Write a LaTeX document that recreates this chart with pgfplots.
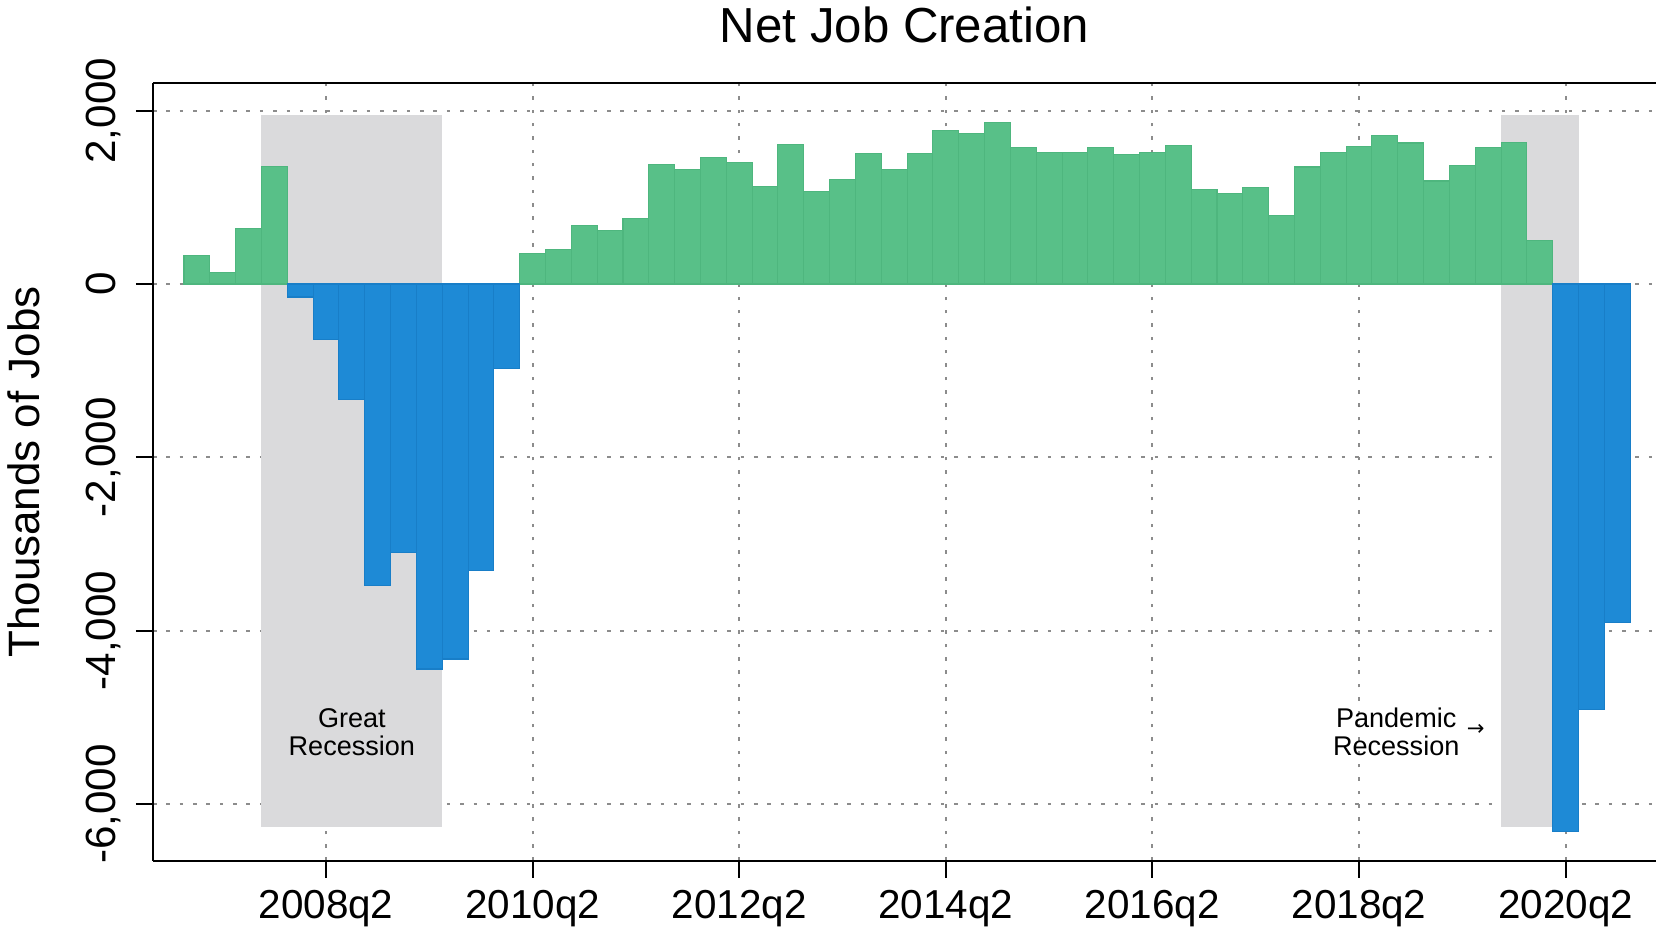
\documentclass[border=0pt]{standalone}
\usepackage{fontspec}
\setmainfont{Liberation Sans}
\newfontfamily\dejavu{DejaVu Sans}
\usepackage{pgfplots}
\pgfplotsset{compat=1.18}
\definecolor{jobgreen}{RGB}{88,192,136}
\definecolor{jobgreenedge}{RGB}{78,182,126}
\definecolor{jobblue}{RGB}{30,138,214}
\definecolor{jobblueedge}{RGB}{24,126,200}
\definecolor{recgray}{RGB}{218,218,220}
\definecolor{gridc}{RGB}{140,140,140}
\begin{document}
\begin{tikzpicture}
\begin{axis}[
  at={(15.3mm,7.2mm)}, anchor=south west,
  scale only axis, width=150.3mm, height=77.8mm,
  xmin=-1.7, xmax=56.5, ymin=-6659, ymax=2320,
  axis x line*=box, axis y line*=left,
  axis line style={line width=0.8pt, black},
  tick pos=left, tick align=outside, major tick length=1.7mm,
  tick style={black, line width=0.6pt},
  xtick={5,13,21,29,37,45,53},
  xticklabels={2008q2,2010q2,2012q2,2014q2,2016q2,2018q2,2020q2},
  ytick={-6000,-4000,-2000,0,2000},
  yticklabels={{-6,000},{-4,000},{-2,000},{0},{2,000}},
  xmajorgrids, ymajorgrids,
  grid style={gridc, line width=0.6pt, dash pattern=on 1pt off 2.8pt},
  xticklabel style={font=\fontsize{11.5}{12}\selectfont, inner sep=0pt, anchor=north},
  xticklabel shift=1.2mm,
  yticklabel style={font=\fontsize{12}{12}\selectfont, rotate=90, anchor=base, inner sep=0pt},
  yticklabel shift=2.0mm,
  title={Net Job Creation},
  title style={font=\fontsize{14}{14}\selectfont, at={(axis description cs:0.5,1)}, anchor=base, yshift=5.6pt},
  ylabel={Thousands of Jobs},
  ylabel style={font=\fontsize{12.5}{12.5}\selectfont, at={(axis description cs:-0.0758,0.5)}, anchor=base},
]
% recession shading
\addplot[fill=recgray, draw=none, forget plot] coordinates {(2.5,-6270) (2.5,1950) (9.5,1950) (9.5,-6270)} -- cycle;
\addplot[fill=recgray, draw=none, forget plot] coordinates {(50.5,-6270) (50.5,1950) (53.5,1950) (53.5,-6270)} -- cycle;
% job creation (positive)
\addplot[ybar, bar width=1, bar shift=0pt, fill=jobgreen, draw=jobgreenedge, line width=0.3pt] coordinates {
(0,334) (1,130) (2,641) (3,1358)
(13,353) (14,399) (15,679) (16,621) (17,756) (18,1381) (19,1320) (20,1458)
(21,1401) (22,1128) (23,1608) (24,1070) (25,1205) (26,1504) (27,1320) (28,1511)
(29,1773) (30,1742) (31,1868) (32,1573) (33,1523) (34,1519) (35,1580) (36,1496)
(37,1520) (38,1600) (39,1090) (40,1044) (41,1113) (42,794) (43,1350) (44,1523)
(45,1588) (46,1715) (47,1627) (48,1189) (49,1370) (50,1573) (51,1631) (52,498)
};
% job destruction (negative)
\addplot[ybar, bar width=1, bar shift=0pt, fill=jobblue, draw=jobblueedge, line width=0.3pt] coordinates {
(4,-150) (5,-645) (6,-1335) (7,-3484) (8,-3100) (9,-4443) (10,-4328) (11,-3311) (12,-970)
(53,-6319) (54,-4909) (55,-3908)
};
\node[align=center, font=\fontsize{7.7}{8}\selectfont] at (axis cs:6.0,-5168) {Great\\Recession};
\node[align=center, font=\fontsize{7.7}{8}\selectfont] at (axis cs:46.44,-5168) {Pandemic\\Recession};
\node[font=\dejavu\fontsize{6}{6}\selectfont] at (axis cs:49.52,-5150) {→};
\end{axis}
\pgfresetboundingbox
\useasboundingbox (0,0) rectangle (165.6mm,93.3mm);
\end{tikzpicture}
\end{document}
